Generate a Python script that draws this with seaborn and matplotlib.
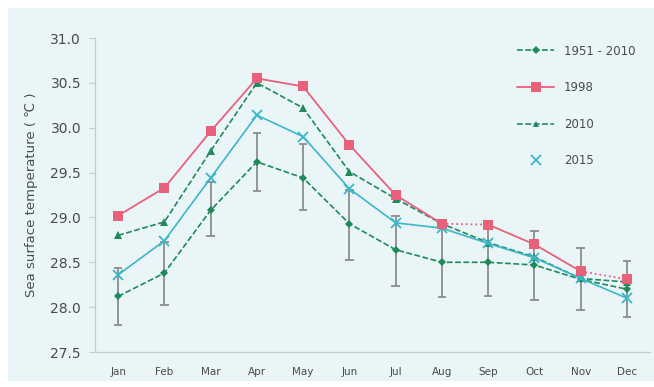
import numpy as np
import pandas as pd
import matplotlib
matplotlib.use("Agg")
import matplotlib.pyplot as plt
from matplotlib.lines import Line2D
from matplotlib.patches import Rectangle
import seaborn as sns

months = ["Jan", "Feb", "Mar", "Apr", "May", "Jun", "Jul", "Aug", "Sep", "Oct", "Nov", "Dec"]
clim_mean = [28.12, 28.38, 29.08, 29.62, 29.44, 28.93, 28.64, 28.50, 28.50, 28.47, 28.31, 28.20]
clim_low = [27.80, 28.02, 28.79, 29.30, 29.08, 28.53, 28.24, 28.11, 28.12, 28.08, 27.97, 27.89]
clim_high = [28.44, 28.73, 29.40, 29.94, 29.82, 29.31, 29.02, 28.89, 28.88, 28.85, 28.66, 28.51]
y1998 = [29.02, 29.33, 29.96, 30.55, 30.46, 29.81, 29.25, 28.93, 28.92, 28.70, 28.40, 28.31]
y1998_dotted_segments = [7, 10]  # segment index i joins month i and i+1
y2010 = [28.80, 28.95, 29.74, 30.50, 30.22, 29.51, 29.21, 28.93, 28.72, 28.56, 28.32, 28.28]
y2015 = [28.36, 28.74, 29.44, 30.14, 29.90, 29.32, 28.94, 28.88, 28.71, 28.55, 28.32, 28.10]
series_labels = ["1951 - 2010", "1998", "2010", "2015"]

c_clim = "#1e8a5c"
c_1998 = "#e9607a"
c_2010 = "#22895f"
c_2015 = "#3cb6c9"
bg = "#eaf5f8"
txt = "#4a4a4a"

sns.set_theme(style="white")
plt.rcParams["font.family"] = ["DejaVu Sans"]

fig = plt.figure(figsize=(6.54, 3.87), dpi=100, facecolor="white")
panel = Rectangle((8 / 654, 6 / 387), 1 - 8 / 654, 1 - 14 / 387,
                  transform=fig.transFigure, facecolor=bg, edgecolor="none", zorder=-10)
fig.add_artist(panel)
ax = fig.add_axes([95 / 654, 1 - 352 / 387, (650 - 95) / 654, (352 - 38) / 387])
ax.set_facecolor("none")
ax.set_zorder(1)

x = np.arange(len(months))
df = pd.DataFrame({"x": x, "clim": clim_mean, "lo": clim_low, "hi": clim_high,
                   "y1998": y1998, "y2010": y2010, "y2015": y2015})

# error bars of climatology
ax.vlines(df["x"], df["lo"], df["hi"], color="#8c8c8c", lw=1.3, zorder=2)
ax.hlines(df["lo"], df["x"] - 0.09, df["x"] + 0.09, color="#8c8c8c", lw=1.3, zorder=2)
ax.hlines(df["hi"], df["x"] - 0.09, df["x"] + 0.09, color="#8c8c8c", lw=1.3, zorder=2)

# 1951-2010 climatology
sns.lineplot(data=df, x="x", y="clim", ax=ax, color=c_clim, lw=1.2, marker="D", markersize=4.5,
             markeredgewidth=0, markeredgecolor=c_clim, zorder=3)
ax.lines[-1].set_dashes([3.5, 1.5])

# 1998 with some dotted segments
for i in range(len(months) - 1):
    seg = df.iloc[i:i + 2]
    ls = ":" if i in y1998_dotted_segments else "-"
    sns.lineplot(data=seg, x="x", y="y1998", ax=ax, color=c_1998, lw=1.3, linestyle=ls, zorder=4)
sns.scatterplot(data=df, x="x", y="y1998", ax=ax, color=c_1998, marker="s", s=42, linewidth=0, zorder=5)

# 2010
sns.lineplot(data=df, x="x", y="y2010", ax=ax, color=c_2010, lw=1.2, marker="^", markersize=5.5,
             markeredgewidth=0, markeredgecolor=c_2010, zorder=3)
ax.lines[-1].set_dashes([3.5, 1.5])

# 2015
sns.lineplot(data=df, x="x", y="y2015", ax=ax, color=c_2015, lw=1.2, marker="x", markersize=6.5,
             markeredgewidth=1.3, markeredgecolor=c_2015, zorder=3)

ax.set_xlim(-0.5, 11.5)
ax.set_ylim(27.5, 31.0)
ax.set_xticks(x)
ax.set_xticklabels(months, fontsize=7.5, color=txt)
ax.set_xticks(np.arange(-0.5, 12, 1), minor=True)
ax.tick_params(axis="x", which="major", length=0, pad=11)
ax.tick_params(axis="x", which="minor", length=5, direction="inout", color="#c5cdd0", width=0.8)
ax.set_yticks(np.arange(27.5, 31.01, 0.5))
ax.set_yticklabels([f"{v:.1f}" for v in np.arange(27.5, 31.01, 0.5)], fontsize=10, color=txt)
ax.tick_params(axis="y", length=4, direction="out", color="#c5cdd0", width=0.8, pad=6, left=True)
ax.set_xlabel("")
ax.set_ylabel("Sea surface temperature ( \u2103 )", fontsize=9.5, color=txt, labelpad=9)

for s in ["top", "right"]:
    ax.spines[s].set_visible(False)
for s in ["left", "bottom"]:
    ax.spines[s].set_color("#c5cdd0")
    ax.spines[s].set_linewidth(0.9)

handles = [
    Line2D([], [], color=c_clim, lw=1.2, dashes=[3.5, 1.5], marker="D", markersize=4.5, markeredgewidth=0),
    Line2D([], [], color=c_1998, lw=1.3, marker="s", markersize=7, markeredgewidth=0),
    Line2D([], [], color=c_2010, lw=1.2, dashes=[3.5, 1.5], marker="^", markersize=5, markeredgewidth=0),
    Line2D([], [], color=c_2015, lw=0, marker="x", markersize=6.5, markeredgewidth=1.3),
]
leg = ax.legend(handles, series_labels, loc="upper left", bbox_to_anchor=(506 / 654, 1 - 34 / 387),
                bbox_transform=fig.transFigure, frameon=False, fontsize=8.5, handlelength=3.2,
                labelspacing=2.0, handletextpad=0.8, labelcolor=txt)

fig.savefig("out.png", dpi=100, facecolor="white")
